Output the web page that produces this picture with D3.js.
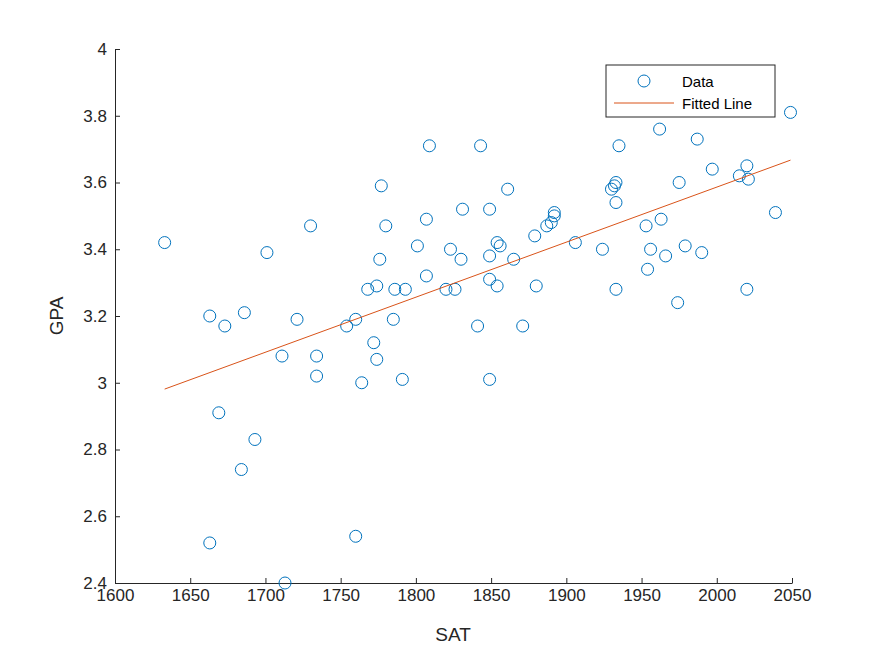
<!DOCTYPE html>
<html><head><meta charset="utf-8">
<script src="https://cdn.jsdelivr.net/npm/d3@7"></script>
<style>body{margin:0;background:#fff}text{font-family:"Liberation Sans",Arial,sans-serif}</style>
</head><body><svg id="chart"></svg>
<script>
const sat = [1633,1663,1673,1669,1686,1684,1693,1663,1701,1711,1721,1713,1730,1734,1734,1754,1760,1764,1760,1768,1772,1774,1774,1776,1777,1780,1785,1786,1791,1793,1801,1807,1807,1809,1820,1823,1826,1830,1831,1841,1843,1849,1849,1849,1849,1854,1856,1854,1861,1865,1871,1879,1880,1887,1890,1892,1892,1906,1924,1930,1932,1933,1933,1933,1935,1953,1954,1956,1962,1963,1966,1974,1975,1979,1987,1990,1997,2015,2020,2021,2020,2039,2049];
const gpa = [3.42,3.20,3.17,2.91,3.21,2.74,2.83,2.52,3.39,3.08,3.19,2.40,3.47,3.08,3.02,3.17,3.19,3.00,2.54,3.28,3.12,3.29,3.07,3.37,3.59,3.47,3.19,3.28,3.01,3.28,3.41,3.49,3.32,3.71,3.28,3.40,3.28,3.37,3.52,3.17,3.71,3.52,3.31,3.38,3.01,3.42,3.41,3.29,3.58,3.37,3.17,3.44,3.29,3.47,3.48,3.50,3.51,3.42,3.40,3.58,3.59,3.60,3.54,3.28,3.71,3.47,3.34,3.40,3.76,3.49,3.38,3.24,3.60,3.41,3.73,3.39,3.64,3.62,3.65,3.61,3.28,3.51,3.81];
const fitX = [1633, 2049];
const fitY = [2.981, 3.667];
const xTicks = d3.range(1600, 2051, 50);
const yTicks = d3.range(2.4, 4.001, 0.2);

const W = 875, H = 656;
const svg = d3.select("#chart").attr("width", W).attr("height", H);
const x = d3.scaleLinear().domain([1600, 2050]).range([115, 792]);
const y = d3.scaleLinear().domain([2.4, 4]).range([583, 49]);

const xAxis = d3.axisBottom(x).tickValues(xTicks).tickSizeInner(-5).tickSizeOuter(0).tickPadding(6)
  .tickFormat(d3.format("d"));
const yAxis = d3.axisLeft(y).tickValues(yTicks).tickSizeInner(-5).tickSizeOuter(0).tickPadding(8)
  .tickFormat(d => d3.format("~g")(+d.toFixed(1)));

for (const [g, ax] of [[svg.append("g").attr("transform", "translate(0,583)"), xAxis],
                       [svg.append("g").attr("transform", "translate(115,0)"), yAxis]]) {
  g.call(ax);
  g.selectAll("path,line").attr("stroke", "#262626");
  g.selectAll("text").attr("fill", "#262626").style("font-size", "17px");
}

svg.append("text").attr("x", 453).attr("y", 641).attr("text-anchor", "middle")
  .attr("fill", "#262626").style("font-size", "19px").text("SAT");
svg.append("text").attr("transform", "translate(63,316) rotate(-90)").attr("text-anchor", "middle")
  .attr("fill", "#262626").style("font-size", "19px").text("GPA");

svg.selectAll(".pt").data(sat).join("circle")
  .attr("cx", d => x(d)).attr("cy", (d, i) => y(gpa[i])).attr("r", 6)
  .attr("fill", "none").attr("stroke", "#0072BD").attr("stroke-width", 1);

svg.append("path").datum(fitX.map((d, i) => [d, fitY[i]]))
  .attr("d", d3.line().x(d => x(d[0])).y(d => y(d[1])))
  .attr("stroke", "#D95319").attr("fill", "none").attr("stroke-width", 1);

const lg = svg.append("g").attr("transform", "translate(606,65)");
lg.append("rect").attr("width", 169).attr("height", 52).attr("fill", "#fff").attr("stroke", "#262626");
lg.append("circle").attr("cx", 38).attr("cy", 16).attr("r", 6).attr("fill", "none").attr("stroke", "#0072BD");
lg.append("line").attr("x1", 8).attr("x2", 68).attr("y1", 38).attr("y2", 38).attr("stroke", "#D95319");
lg.append("text").attr("x", 76).attr("y", 22).style("font-size", "15px").text("Data");
lg.append("text").attr("x", 76).attr("y", 44).style("font-size", "15px").text("Fitted Line");
</script></body></html>
